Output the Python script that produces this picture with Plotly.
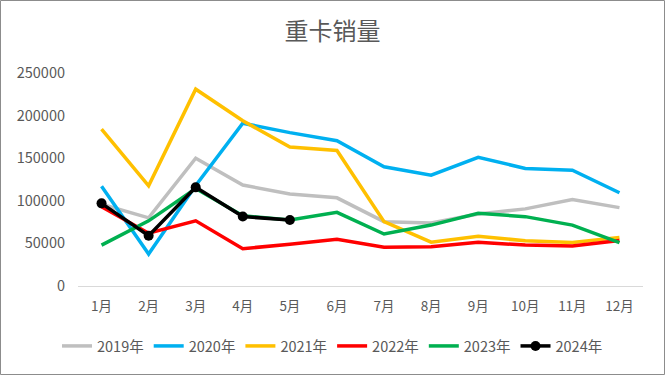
import plotly.graph_objects as go

months = ["1月", "2月", "3月", "4月", "5月", "6月", "7月", "8月", "9月", "10月", "11月", "12月"]
y2019 = [96000, 80000, 150000, 118500, 108000, 103500, 75500, 74000, 84500, 90500, 101500, 92000]
y2020 = [117000, 37500, 118000, 191000, 180000, 170500, 140000, 130000, 151000, 138000, 136000, 109500]
y2021 = [184000, 117500, 231000, 194000, 163000, 159000, 75500, 51500, 58500, 53000, 51000, 57000]
y2022 = [93000, 62000, 76500, 43800, 49000, 54800, 45400, 46000, 51300, 48000, 47000, 53500]
y2023 = [48000, 76500, 114500, 82500, 77500, 86500, 61000, 71500, 85300, 81400, 71500, 51000]
y2024 = [97000, 59000, 115800, 81500, 77500]
ytick_vals = [0, 50000, 100000, 150000, 200000, 250000]

series = [
    ("2019年", y2019, "#BFBFBF"),
    ("2020年", y2020, "#00B0F0"),
    ("2021年", y2021, "#FFC000"),
    ("2022年", y2022, "#FF0000"),
    ("2023年", y2023, "#00B050"),
]

fig = go.Figure()
for name, vals, color in series:
    fig.add_trace(go.Scatter(x=months[:len(vals)], y=vals, name=name, mode="lines",
                             line=dict(color=color, width=3.5)))
fig.add_trace(go.Scatter(x=months[:len(y2024)], y=y2024, name="2024年", mode="lines+markers",
                         line=dict(color="#000000", width=3.5),
                         marker=dict(color="#000000", size=10)))

font_family = "Noto Sans CJK SC, Noto Sans, sans-serif"
L, R, T, B = 78, 22, 73, 89
W, H = 665, 375
pw, ph = W - L - R, H - T - B

fig.update_layout(
    width=W, height=H,
    margin=dict(l=L, r=R, t=T, b=B, autoexpand=False),
    paper_bgcolor="white", plot_bgcolor="white",
    font=dict(family=font_family, color="#595959", size=13),
    title=dict(text="重卡销量", x=0.5, xanchor="center", y=1 - 31.5 / H, yanchor="middle",
               font=dict(size=24, color="#595959", family=font_family)),
    showlegend=True,
    legend=dict(orientation="h", x=(W / 2 - L) / pw, xanchor="center",
                y=(H - B - 346) / ph, yanchor="middle",
                font=dict(size=14.5, color="#595959"), itemwidth=30, tracegroupgap=0,
                bgcolor="rgba(0,0,0,0)"),
    xaxis=dict(type="category", range=[-0.5, 11.5], showgrid=False, showline=True,
               linecolor="#D9D9D9", linewidth=1, ticks="", zeroline=False,
               ticklabelstandoff=8,
               tickfont=dict(size=13.5, color="#595959")),
    yaxis=dict(range=[0, 250000], tickvals=ytick_vals, ticktext=[str(v) for v in ytick_vals],
               showgrid=False, zeroline=False, showline=False, ticks="",
               ticklabelstandoff=12,
               tickfont=dict(size=14.5, color="#595959")),
    shapes=[dict(type="rect", xref="paper", yref="paper",
                 x0=(0.5 - L) / pw, x1=(W - 0.5 - L) / pw,
                 y0=(H - B - (H - 0.5)) / ph, y1=(H - B - 0.5) / ph,
                 line=dict(color="#8C8C8C", width=1), fillcolor="rgba(0,0,0,0)")],
)

fig.write_html("out.html", config={"displayModeBar": False},
               post_script="document.body.style.margin='0';document.body.style.overflow='hidden';")
